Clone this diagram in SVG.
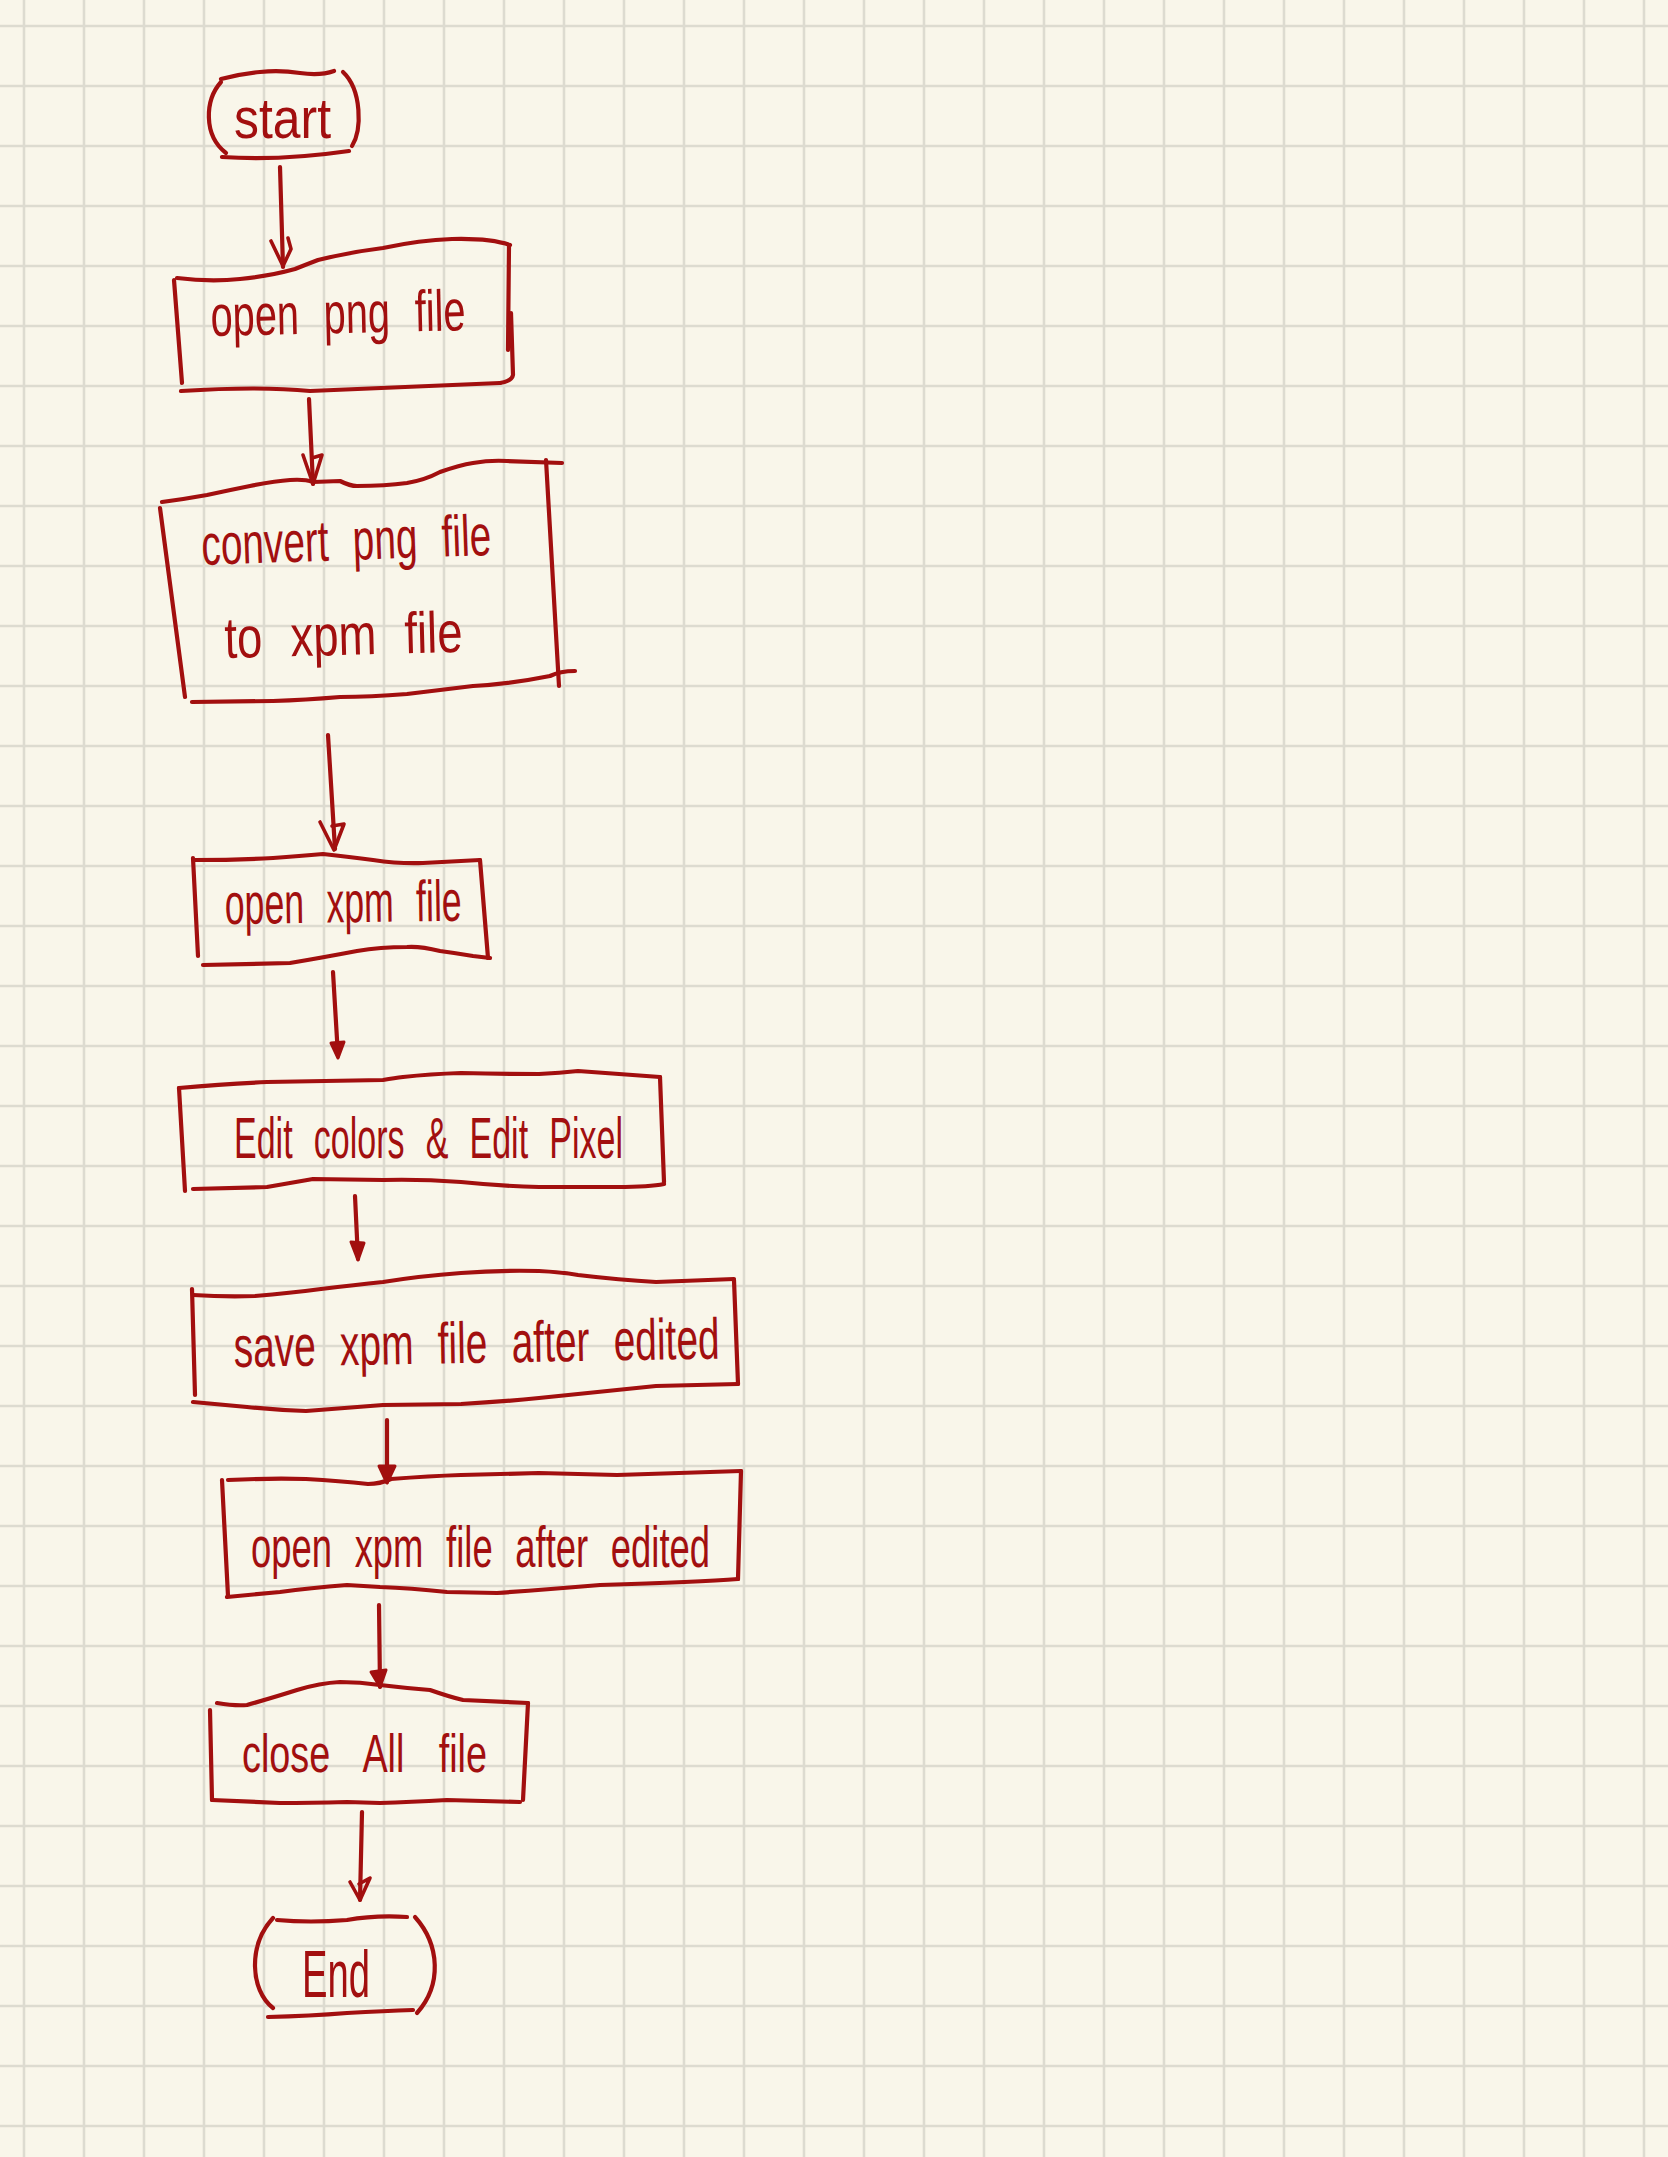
<svg xmlns="http://www.w3.org/2000/svg" width="1668" height="2157" viewBox="0 0 1668 2157">
<defs>
<pattern id="grid" patternUnits="userSpaceOnUse" x="-6" y="-4" width="60" height="60">
<path d="M30,0 V60 M0,30 H60" stroke="#dddbd0" stroke-width="2.6" fill="none"/>
</pattern>
<style>
.s{fill:none;stroke:#a20f0f;stroke-width:4.2;stroke-linecap:round;stroke-linejoin:round}
.h{fill:#a20f0f;stroke:#a20f0f;stroke-width:3;stroke-linejoin:round}
.ho{fill:none;stroke:#a20f0f;stroke-width:3.6;stroke-linecap:round;stroke-linejoin:round}
text{font-family:"Liberation Sans",Arial,sans-serif;fill:#a20f0f;font-size:58px;word-spacing:20px}
</style>
</defs>
<rect width="1668" height="2157" fill="#f9f6ea"/>
<rect width="1668" height="2157" fill="url(#grid)"/>

<g id="start">
<path class="s" d="M221,79 Q240,74 260,72 T300,73 T334,71"/>
<path class="s" d="M221,82 C205,100 203,135 226,153"/>
<path class="s" d="M343,72 C362,90 362,130 352,146"/>
<path class="s" d="M222,157 Q280,161 349,151"/>
<text x="234" y="138" textLength="97" lengthAdjust="spacingAndGlyphs">start</text>
</g>

<g id="open-png">
<path class="s" d="M177,278 Q210,282 240,279 T295,269 Q305,265 318,260 Q350,252 383,248 Q420,240 452,239 Q490,238 510,245"/>
<path class="s" d="M509,245 L508,350"/>
<path class="s" d="M511,313 L513,375 Q512,381 500,383"/>
<path class="s" d="M181,391 Q260,386 310,391 Q400,387 500,383"/>
<path class="s" d="M174,280 L182,383"/>
<text x="211" y="336" textLength="255" lengthAdjust="spacingAndGlyphs" transform="rotate(-1.3 211 336)">open png file</text>
</g>

<g id="convert">
<path class="s" d="M162,502 Q185,499 207,495 Q230,490 250,486 Q275,481 290,480 Q305,479 313,482 L340,481 Q350,486 357,486 Q385,486 407,483 Q425,480 440,472 Q460,465 473,463 Q490,460 507,461 L562,463"/>
<path class="s" d="M546,460 Q552,560 559,686"/>
<path class="s" d="M575,671 Q560,671 550,676 Q510,684 473,686 Q440,690 407,694 Q370,697 340,697 Q305,700 273,701 L192,702"/>
<path class="s" d="M160,508 L185,697"/>
<text x="202" y="565" textLength="290" lengthAdjust="spacingAndGlyphs" transform="rotate(-2 202 565)">convert png file</text>
<text x="225" y="658" textLength="238" lengthAdjust="spacingAndGlyphs" transform="rotate(-1.5 225 658)">to xpm file</text>
</g>

<g id="open-xpm">
<path class="s" d="M195,860 Q235,860 273,858 Q300,856 323,854 Q350,857 373,860 Q400,864 423,863 L480,860"/>
<path class="s" d="M480,860 L488,958"/>
<path class="s" d="M490,958 L473,956 Q455,953 440,951 Q420,946 407,947 Q380,947 357,951 Q320,958 290,963 L203,965"/>
<path class="s" d="M193,858 L198,956"/>
<text x="225" y="924" textLength="237" lengthAdjust="spacingAndGlyphs" transform="rotate(-0.8 225 924)">open xpm file</text>
</g>

<g id="edit">
<path class="s" d="M179,1088 Q225,1084 267,1082 Q330,1081 383,1080 Q395,1078 403,1077 Q430,1074 461,1073 Q500,1074 539,1074 Q560,1073 578,1071 L660,1077"/>
<path class="s" d="M660,1077 L664,1182"/>
<path class="s" d="M664,1184 Q650,1187 617,1187 L539,1187 Q500,1186 461,1182 Q420,1179 383,1180 L313,1179 Q290,1183 267,1187 L193,1189"/>
<path class="s" d="M179,1088 L185,1191"/>
<text x="234" y="1158" textLength="389" lengthAdjust="spacingAndGlyphs">Edit colors &amp; Edit Pixel</text>
</g>

<g id="save">
<path class="s" d="M193,1295 Q225,1297 255,1296 Q290,1293 321,1289 Q355,1285 383,1282 Q420,1276 461,1273 Q500,1270 539,1271 Q560,1272 578,1275 Q620,1280 656,1282 L734,1279"/>
<path class="s" d="M734,1280 L738,1384"/>
<path class="s" d="M738,1384 L656,1386 Q600,1392 539,1398 Q500,1402 461,1404 L383,1405 Q345,1408 306,1411 Q275,1410 247,1407 Q215,1404 193,1402"/>
<path class="s" d="M192,1289 L195,1395"/>
<text x="234" y="1367" textLength="486" lengthAdjust="spacingAndGlyphs" transform="rotate(-1 234 1367)">save xpm file after edited</text>
</g>

<g id="open-edited">
<path class="s" d="M228,1480 Q270,1478 306,1479 Q340,1481 368,1484 Q380,1484 391,1479 Q430,1476 461,1475 L539,1473 Q580,1474 617,1475 L741,1471"/>
<path class="s" d="M741,1471 L738,1579"/>
<path class="s" d="M738,1579 Q700,1582 600,1585 Q540,1590 497,1593 L447,1592 Q410,1588 380,1587 L347,1585 Q310,1588 280,1592 L227,1597"/>
<path class="s" d="M222,1480 L228,1596"/>
<text x="251" y="1567" textLength="459" lengthAdjust="spacingAndGlyphs">open xpm file after edited</text>
</g>

<g id="close">
<path class="s" d="M217,1703 Q235,1706 247,1705 Q275,1697 297,1690 Q320,1683 340,1682 Q360,1682 380,1685 Q405,1688 430,1690 Q450,1697 463,1700 L528,1703"/>
<path class="s" d="M528,1703 L523,1800"/>
<path class="s" d="M520,1802 L447,1800 Q410,1802 380,1803 L347,1802 Q310,1803 280,1803 L212,1800"/>
<path class="s" d="M210,1710 L212,1800"/>
<text x="242" y="1772" textLength="245" lengthAdjust="spacingAndGlyphs" style="font-size:54px;word-spacing:34px">close All file</text>
</g>

<g id="end">
<path class="s" d="M273,1918 C248,1945 250,1990 273,2008"/>
<path class="s" d="M277,1920 Q310,1923 347,1920 Q375,1915 407,1917"/>
<path class="s" d="M415,1917 C440,1945 442,1985 417,2013"/>
<path class="s" d="M268,2017 Q310,2016 347,2013 Q385,2011 413,2010"/>
<text x="302" y="1997" textLength="68" lengthAdjust="spacingAndGlyphs" style="font-size:66px">End</text>
</g>

<g id="connectors">
<path class="s" d="M280,167 L283,267"/>
<path class="ho" d="M271,241 L283,266 L291,249 L288,238"/>
<path class="s" d="M309,399 L313,484"/>
<path class="ho" d="M303,455 L313,484 L322,455 L312,458"/>
<path class="s" d="M328,735 L335,849"/>
<path class="ho" d="M320,822 L334,850 L344,824 L332,826"/>
<path class="s" d="M333,972 L338,1056"/>
<path class="h" d="M331,1043 L344,1042 L338,1058 Z"/>
<path class="s" d="M355,1196 L358,1259"/>
<path class="h" d="M351,1242 L364,1243 L358,1260 Z"/>
<path class="s" d="M387,1420 L387,1482"/>
<path class="h" d="M379,1466 L395,1466 L387,1483 Z"/>
<path class="s" d="M379,1605 L380,1687"/>
<path class="h" d="M371,1672 L386,1670 L380,1687 Z"/>
<path class="s" d="M362,1812 L360,1900"/>
<path class="ho" d="M350,1882 L360,1900 L370,1878 L359,1884"/>
</g>
</svg>
